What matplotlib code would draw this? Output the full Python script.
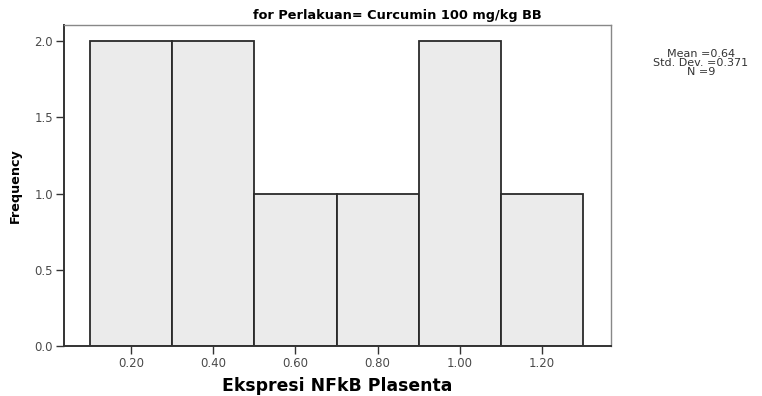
import matplotlib
matplotlib.use("Agg")
import matplotlib.pyplot as plt
import numpy as np

bin_edges = [0.1, 0.3, 0.5, 0.7, 0.9, 1.1, 1.3]
counts = [2, 2, 1, 1, 2, 1]
x_ticks = [0.2, 0.4, 0.6, 0.8, 1.0, 1.2]
x_tick_labels = ["0.20", "0.40", "0.60", "0.80", "1.00", "1.20"]
y_ticks = [0.0, 0.5, 1.0, 1.5, 2.0]
y_tick_labels = ["0.0", "0.5", "1.0", "1.5", "2.0"]
title = "for Perlakuan= Curcumin 100 mg/kg BB"
stats_text = "Mean =0.64\nStd. Dev. =0.371\nN =9"

plt.rcParams['font.family'] = ['DejaVu Sans']

W, H = 762, 396
fig = plt.figure(figsize=(W / 100, H / 100), dpi=100)
ax = fig.add_axes([64 / W, 1 - 346 / H, (611 - 64) / W, (346 - 25) / H])

lefts = bin_edges[:-1]
widths = np.diff(bin_edges)
ax.bar(lefts, counts, width=widths, align='edge', color='#ebebeb',
       edgecolor='#2a2a2a', linewidth=1.3)

ax.set_xlim(0.0367, 1.368)
ax.set_ylim(0, 2.105)
ax.set_xticks(x_ticks)
ax.set_xticklabels(x_tick_labels, fontsize=8.5, color='#4a4a4a')
ax.set_yticks(y_ticks)
ax.set_yticklabels(y_tick_labels, fontsize=8.5, color='#4a4a4a')
ax.tick_params(axis='both', direction='out', length=6, width=1.0, color='#333333', pad=2)

for s in ['left', 'bottom']:
    ax.spines[s].set_color('#333333')
    ax.spines[s].set_linewidth(1.4)
for s in ['top', 'right']:
    ax.spines[s].set_color('#888888')
    ax.spines[s].set_linewidth(1.0)

ax.set_xlabel("Ekspresi NFkB Plasenta", fontsize=12.4, fontweight='bold', labelpad=5)
ax.set_ylabel("Frequency", fontsize=9.2, fontweight='bold', labelpad=9)

fig.text(397 / W, 1 - 15 / H, title, ha='center', va='center', fontsize=9.3, fontweight='bold')
fig.text(701 / W, 1 - 63 / H, stats_text, ha='center', va='center', fontsize=8,
         color='#333333', linespacing=0.85)

fig.savefig("out.png", dpi=100)
